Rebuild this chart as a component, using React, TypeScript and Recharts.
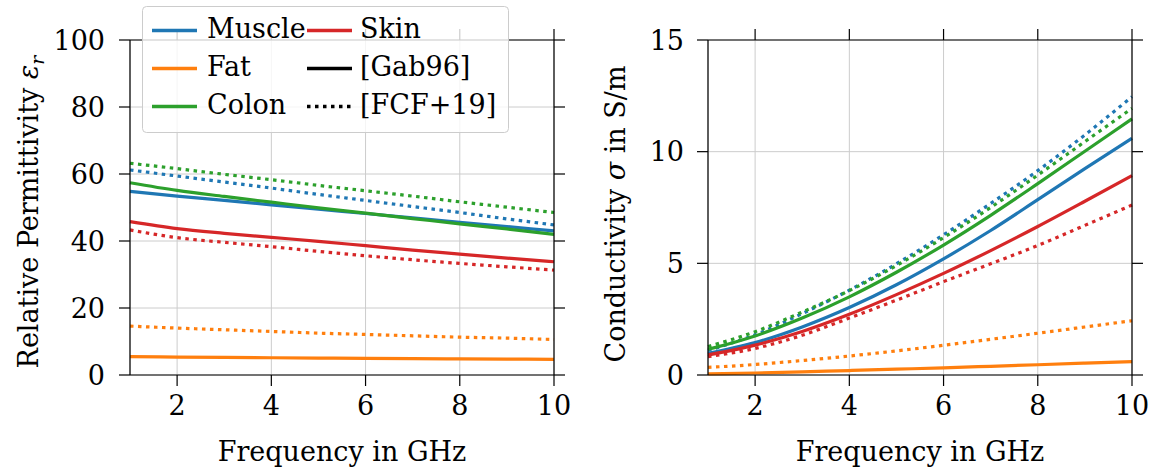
import React from 'react';
import { LineChart, Line, XAxis, YAxis, CartesianGrid, Legend } from 'recharts';

// ---------- data ----------
const FREQ_GHZ = [1, 2, 3, 4, 5, 6, 7, 8, 9, 10];
const X_TICKS = [2, 4, 6, 8, 10];
const EPS_TICKS = [0, 20, 40, 60, 80, 100];
const SIG_TICKS = [0, 5, 10, 15];

const TISSUES = ['Muscle', 'Fat', 'Colon', 'Skin'];
const TISSUE_COLORS = ['#1f77b4', '#ff7f0e', '#2ca02c', '#d62728'];
const SOURCES = ['[Gab96]', '[FCF+19]'];

// Relative permittivity, [Gab96]
const EPS_GAB_MUSCLE = [54.8, 53.4, 52.1, 50.8, 49.5, 48.2, 46.9, 45.6, 44.3, 43.0];
const EPS_GAB_FAT = [5.5, 5.35, 5.25, 5.15, 5.05, 4.95, 4.9, 4.8, 4.75, 4.65];
const EPS_GAB_COLON = [57.4, 55.1, 53.3, 51.6, 49.9, 48.3, 46.7, 45.1, 43.6, 42.0];
const EPS_GAB_SKIN = [45.8, 43.7, 42.3, 41.1, 39.9, 38.6, 37.3, 36.1, 34.9, 33.8];
// Relative permittivity, [FCF+19]
const EPS_FCF_MUSCLE = [61.2, 59.4, 57.6, 55.8, 53.9, 52.1, 50.3, 48.5, 46.6, 44.8];
const EPS_FCF_FAT = [14.6, 14.0, 13.5, 13.0, 12.5, 12.1, 11.7, 11.3, 11.0, 10.6];
const EPS_FCF_COLON = [63.2, 61.6, 59.9, 58.3, 56.6, 55.0, 53.4, 51.7, 50.1, 48.5];
const EPS_FCF_SKIN = [43.3, 41.0, 39.6, 38.3, 36.9, 35.6, 34.4, 33.3, 32.3, 31.3];

// Conductivity in S/m, [Gab96]
const SIG_GAB_MUSCLE = [0.97, 1.45, 2.15, 3.02, 4.04, 5.2, 6.47, 7.85, 9.24, 10.6];
const SIG_GAB_FAT = [0.05, 0.09, 0.14, 0.2, 0.26, 0.32, 0.39, 0.46, 0.53, 0.6];
const SIG_GAB_COLON = [1.15, 1.75, 2.55, 3.5, 4.6, 5.82, 7.15, 8.57, 10.02, 11.47];
const SIG_GAB_SKIN = [0.9, 1.34, 1.95, 2.72, 3.6, 4.55, 5.57, 6.65, 7.78, 8.93];
// Conductivity in S/m, [FCF+19]
const SIG_FCF_MUSCLE = [1.1, 1.8, 2.75, 3.8, 4.98, 6.28, 7.68, 9.15, 10.75, 12.46];
const SIG_FCF_FAT = [0.34, 0.47, 0.65, 0.85, 1.08, 1.33, 1.6, 1.87, 2.15, 2.43];
const SIG_FCF_COLON = [1.27, 1.94, 2.82, 3.78, 4.9, 6.15, 7.5, 8.95, 10.45, 11.94];
const SIG_FCF_SKIN = [0.82, 1.19, 1.78, 2.55, 3.35, 4.18, 4.98, 5.8, 6.7, 7.61];

const EPS_SERIES = [
  [EPS_GAB_MUSCLE, EPS_GAB_FAT, EPS_GAB_COLON, EPS_GAB_SKIN],
  [EPS_FCF_MUSCLE, EPS_FCF_FAT, EPS_FCF_COLON, EPS_FCF_SKIN],
];
const SIG_SERIES = [
  [SIG_GAB_MUSCLE, SIG_GAB_FAT, SIG_GAB_COLON, SIG_GAB_SKIN],
  [SIG_FCF_MUSCLE, SIG_FCF_FAT, SIG_FCF_COLON, SIG_FCF_SKIN],
];

const key = (s: number, t: number) => `s${s}_t${t}`;
const buildRows = (series: number[][][]) =>
  FREQ_GHZ.map((f, i) => {
    const row: Record<string, number> = { f };
    series.forEach((bySrc, s) => bySrc.forEach((vals, t) => { row[key(s, t)] = vals[i]; }));
    return row;
  });
const EPS_ROWS = buildRows(EPS_SERIES);
const SIG_ROWS = buildRows(SIG_SERIES);

// ---------- style ----------
const FONT = 'DejaVu Serif';
const FS = 27;
const LW = 3.2;
const DOT = '3.5 4.5';
const DASHES = [undefined, DOT];
const blank = () => '';

const LegendBox = () => {
  const rows = [32, 70, 108];
  const items: { label: string; color: string; dash?: string }[] = [
    ...TISSUES.map((t, i) => ({ label: t, color: TISSUE_COLORS[i] })),
    ...SOURCES.map((s, i) => ({ label: s, color: '#000', dash: DASHES[i] })),
  ];
  return (
    <svg width={368} height={128} style={{ display: 'block', overflow: 'visible' }}>
      <rect x={0.5} y={0.5} width={366} height={126} rx={4} fill="#fff" fillOpacity={0.8} stroke="#cccccc" />
      {items.map((it, i) => {
        const col = i < 3 ? 0 : 1;
        const row = i < 3 ? i : i - 3;
        const lx = col === 0 ? 10 : 165;
        const tx = col === 0 ? 65 : 218;
        const by = rows[row];
        return (
          <g key={it.label}>
            <line x1={lx} x2={lx + 45} y1={by - 7.5} y2={by - 7.5} stroke={it.color} strokeWidth={LW + 0.3} strokeDasharray={it.dash} />
            <text x={tx} y={by} fontFamily={FONT} fontSize={FS} fill="#000">{it.label}</text>
          </g>
        );
      })}
    </svg>
  );
};

type PanelProps = {
  width: number;
  leftW: number;
  rightW: number;
  rows: Record<string, number>[];
  yTicks: number[];
  yTitle: React.ReactNode;
  xTitleX: number;
  tickMarginY: number;
  legend?: boolean;
};

const Panel = ({ width, leftW, rightW, rows, yTicks, yTitle, xTitleX, tickMarginY, legend }: PanelProps) => {
  const yDomain = [yTicks[0], yTicks[yTicks.length - 1]];
  const tickStyle = { fontSize: FS, fill: '#000', fontFamily: FONT };
  const axisLine = { stroke: '#000', strokeWidth: 1.2 };
  const tickLine = { stroke: '#000', strokeWidth: 1.2 };
  return (
    <LineChart width={width} height={468} data={rows} margin={{ top: 0, right: 0, bottom: 0, left: 0 }}>
      <CartesianGrid stroke="#cccccc" strokeWidth={1} />
      <XAxis
        dataKey="f" type="number" domain={[1, 10]} ticks={X_TICKS} height={93}
        tickSize={11} tickMargin={10} tick={tickStyle} axisLine={axisLine} tickLine={tickLine}
        label={{
          content: () => (
            <text x={xTitleX} y={461} textAnchor="middle" fontFamily={FONT} fontSize={FS} fill="#000">
              Frequency in GHz
            </text>
          ),
        }}
      />
      <XAxis
        xAxisId="top" orientation="top" dataKey="f" type="number" domain={[1, 10]} ticks={X_TICKS} height={40}
        tickSize={11} tick={tickStyle} tickFormatter={blank} axisLine={axisLine} tickLine={tickLine}
      />
      <YAxis
        type="number" domain={yDomain} ticks={yTicks} width={leftW}
        tickSize={11} tickMargin={tickMarginY} tick={tickStyle} axisLine={axisLine} tickLine={tickLine}
        label={{ content: () => yTitle }}
      />
      <YAxis
        yAxisId="right" orientation="right" type="number" domain={yDomain} ticks={yTicks} width={rightW}
        tickSize={11} tick={tickStyle} tickFormatter={blank} axisLine={axisLine} tickLine={tickLine}
      />
      {TISSUES.map((t, ti) =>
        SOURCES.map((s, si) => (
          <Line
            key={key(si, ti)} dataKey={key(si, ti)} name={`${t} ${s}`} type="monotone" dot={false}
            stroke={TISSUE_COLORS[ti]} strokeWidth={LW} strokeDasharray={DASHES[si]} isAnimationActive={false}
          />
        ))
      )}
      {/* invisible series that binds the mirrored top / right axes */}
      <Line
        xAxisId="top" yAxisId="right" dataKey={key(0, 0)} stroke="none" strokeWidth={0} dot={false}
        activeDot={false} legendType="none" isAnimationActive={false}
      />
      {legend && (
        <Legend
          layout="horizontal" verticalAlign="middle" align="center"
          content={() => <LegendBox />}
          wrapperStyle={{ position: 'absolute', left: 142, top: 6, width: 368, height: 128 }}
        />
      )}
    </LineChart>
  );
};

const yTitleLeft = (
  <text x={38} y={212} transform="rotate(-90 38 212)" textAnchor="middle" fontFamily={FONT} fontSize={FS} fill="#000">
    Relative Permittivity <tspan fontStyle="italic">ε</tspan>
    <tspan fontStyle="italic" fontSize={19} dy={6}>r</tspan>
  </text>
);
const yTitleRight = (
  <text x={45} y={214} transform="rotate(-90 45 214)" textAnchor="middle" fontFamily={FONT} fontSize={FS} fill="#000">
    Conductivity <tspan fontStyle="italic">σ</tspan> in S/m
  </text>
);

export default function App() {
  return (
    <div style={{ position: 'absolute', left: 0, top: 0, width: 1154, height: 468, background: '#fff' }}>
      <div style={{ position: 'absolute', left: 0, top: 0 }}>
        <Panel width={580} leftW={130} rightW={26} rows={EPS_ROWS} yTicks={EPS_TICKS} yTitle={yTitleLeft} xTitleX={342} tickMarginY={14} legend />
      </div>
      <div style={{ position: 'absolute', left: 580, top: 0 }}>
        <Panel width={574} leftW={128} rightW={22} rows={SIG_ROWS} yTicks={SIG_TICKS} yTitle={yTitleRight} xTitleX={340} tickMarginY={13} />
      </div>
    </div>
  );
}
